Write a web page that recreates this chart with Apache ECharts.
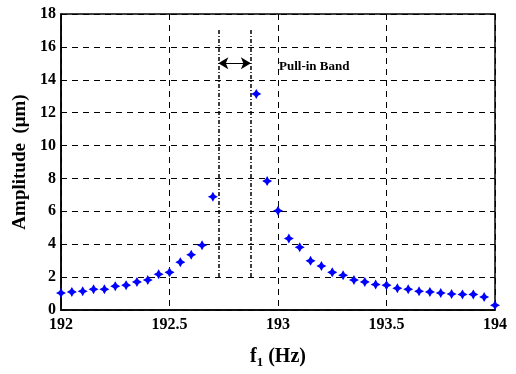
<!DOCTYPE html>
<html>
<head>
<meta charset="utf-8">
<script src="https://cdn.jsdelivr.net/npm/echarts@6/dist/echarts.min.js"></script>
<style>
  html, body { margin: 0; padding: 0; background: #fff; }
  #chart { width: 516px; height: 374px; }
</style>
</head>
<body>
<div id="chart"></div>
<script>
// measured points, left of the pull-in band
var leftFreq = [192.00, 192.05, 192.10, 192.15, 192.20, 192.25, 192.30, 192.35, 192.40, 192.45, 192.50, 192.55, 192.60, 192.65, 192.70];
var leftAmp = [1.03, 1.10, 1.14, 1.26, 1.26, 1.45, 1.51, 1.71, 1.82, 2.17, 2.29, 2.91, 3.36, 3.94, 6.89];
// measured points, right of the band
var rightFreq = [192.90, 192.95, 193.00, 193.05, 193.10, 193.15, 193.20, 193.25, 193.30, 193.35, 193.40, 193.45,
                 193.50, 193.55, 193.60, 193.65, 193.70, 193.75, 193.80, 193.85, 193.90, 193.95, 194.00];
var rightAmp = [13.14, 7.84, 6.04, 4.35, 3.82, 2.99, 2.68, 2.29, 2.11, 1.82, 1.71, 1.55,
                1.51, 1.32, 1.26, 1.14, 1.10, 1.03, 0.97, 0.95, 0.95, 0.79, 0.29];
// pull-in band limits
var bandFreq = [192.725, 192.875];
var bandAmp = [2, 17.1];
var arrowAmp = 15;
var bandLabel = 'Pull-in Band';
var bandLabelPos = [193.0, 14.77];

var myChart = echarts.init(document.getElementById('chart'));

var pts = [];
leftFreq.forEach(function (f, i) { pts.push([f, leftAmp[i]]); });
rightFreq.forEach(function (f, i) { pts.push([f, rightAmp[i]]); });

var font = 'Liberation Serif, Times New Roman, serif';
// fat 4-point star, close to the matlab marker
var starPath = 'path://M5,0 L6.8,3.2 L10,5 L6.8,6.8 L5,10 L3.2,6.8 L0,5 L3.2,3.2 Z';

var gridDash = { color: '#000', width: 1, type: [6, 5] };

var option = {
    animation: false,
    grid: { left: 61, right: 21, top: 14, bottom: 51, show: true, borderColor: '#000', borderWidth: 1.5 },
    xAxis: {
        type: 'value',
        min: 192, max: 194, interval: 0.5,
        name: '{f|f}{s|1}{f| (Hz)}',
        nameLocation: 'middle',
        nameGap: 34,
        nameTextStyle: {
            rich: {
                f: { fontFamily: font, fontWeight: 'bold', fontSize: 20, color: '#000' },
                s: { fontFamily: font, fontWeight: 'bold', fontSize: 13, color: '#000', verticalAlign: 'bottom', padding: [12, 0, 0, 0] }
            }
        },
        axisLine: { lineStyle: { color: '#000', width: 1.5 } },
        axisTick: { show: false },
        axisLabel: { color: '#000', fontFamily: font, fontWeight: 'bold', fontSize: 16, margin: 7,
            formatter: function (v) { return String(+v.toFixed(1)); } },
        splitLine: { show: true, lineStyle: gridDash }
    },
    yAxis: {
        type: 'value',
        min: 0, max: 18, interval: 2,
        name: 'Amplitude  (μm)',
        nameLocation: 'middle',
        nameGap: 30,
        nameTextStyle: { color: '#000', fontFamily: font, fontWeight: 'bold', fontSize: 19 },
        axisLine: { lineStyle: { color: '#000', width: 1.5 } },
        axisTick: { show: false },
        axisLabel: { color: '#000', fontFamily: font, fontWeight: 'bold', fontSize: 16, margin: 5 },
        splitLine: { show: true, lineStyle: gridDash }
    },
    series: [
        {
            type: 'scatter',
            data: pts,
            symbol: starPath,
            symbolSize: 10,
            itemStyle: { color: '#0000ff', opacity: 1 },
            z: 5
        },
        {
            type: 'line',
            data: [],
            markLine: {
                silent: true,
                symbol: ['none', 'none'],
                label: { show: false },
                lineStyle: { color: '#000', width: 1.5, type: [4, 2, 1, 2] },
                data: bandFreq.map(function (f) {
                    return [{ coord: [f, bandAmp[0]] }, { coord: [f, bandAmp[1]] }];
                })
            }
        },
        {
            type: 'line',
            data: [],
            markLine: {
                silent: true,
                symbol: ['arrow', 'arrow'],
                symbolSize: [9, 10],
                label: { show: false },
                lineStyle: { color: '#000', width: 1.2, type: 'solid' },
                data: [[{ coord: [bandFreq[0], arrowAmp] }, { coord: [bandFreq[1], arrowAmp] }]]
            }
        },
        {
            type: 'scatter',
            data: [bandLabelPos],
            symbolSize: 0,
            silent: true,
            itemStyle: { opacity: 1 },
            label: {
                show: true,
                position: 'right',
                distance: 1,
                formatter: bandLabel,
                color: '#000',
                fontFamily: font,
                fontWeight: 'bold',
                fontSize: 13
            }
        }
    ]
};
myChart.setOption(option);
</script>
</body>
</html>
